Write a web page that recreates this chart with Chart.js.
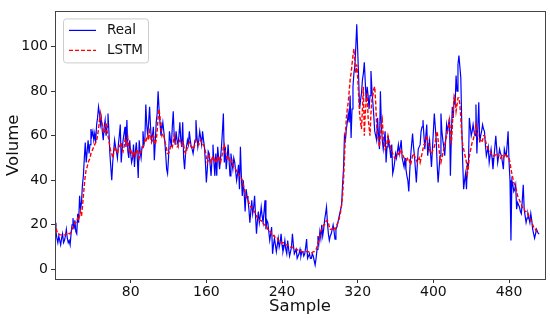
<!DOCTYPE html>
<html>
<head>
<meta charset="utf-8">
<script src="https://cdn.jsdelivr.net/npm/chart.js@4"></script>
<style>
  html, body { margin: 0; padding: 0; background: #fff; }
  #wrap { width: 550px; height: 323px; }
</style>
</head>
<body>
<div id="wrap"><canvas id="volumeChart" width="550" height="323"></canvas></div>
<script>
// Values, one per sample
const realVolume = [
  21, 17, 14, 12, 15, 13, 11, 14, 16, 12,
  13, 15, 18, 14, 12, 13, 11, 16, 20, 23,
  18, 22, 17, 16, 25, 21, 33, 27, 30, 38,
  42, 50, 57, 48, 53, 58, 52, 56, 63, 60,
  62, 58, 61, 57, 65, 68, 73, 70, 65, 68,
  62, 58, 64, 67, 60, 64, 70, 62, 52, 46,
  40, 48, 53, 58, 55, 53, 50, 56, 60, 65,
  48, 54, 58, 61, 64, 55, 67, 53, 50, 58,
  52, 48, 50, 56, 46, 53, 57, 50, 41, 58,
  53, 50, 55, 62, 56, 58, 74, 65, 60, 66,
  73, 64, 58, 60, 64, 49, 57, 66, 70, 80,
  72, 66, 60, 63, 66, 62, 58, 52, 45, 43,
  50, 62, 58, 55, 64, 71, 60, 56, 62, 58,
  56, 60, 66, 58, 55, 66, 50, 45, 52, 55,
  58, 56, 62, 58, 55, 54, 52, 55, 58, 67,
  60, 55, 58, 62, 59, 56, 62, 58, 55, 48,
  39, 45, 53, 52, 47, 42, 50, 56, 48, 42,
  52, 42, 55, 50, 45, 50, 55, 62, 70, 48,
  55, 45, 50, 56, 49, 42, 52, 48, 45, 50,
  48, 44, 40, 43, 47, 36, 55, 42, 33, 40,
  34, 26, 36, 33, 31, 27, 21, 26, 31, 25,
  28, 33, 24, 16, 22, 26, 21, 24, 28, 24,
  21, 26, 31, 18, 22, 21, 17, 13, 16, 19,
  7, 11, 14, 11, 8, 11, 14, 10, 12, 16,
  11, 8, 10, 13, 9, 7, 13, 9, 6, 8,
  10, 16, 11, 7, 8, 9, 5, 6, 7, 9,
  6, 8, 8, 6, 7, 10, 13.6, 5, 6, 7,
  5, 5, 7, 6, 4, 2, 5, 9, 15, 12,
  17, 14, 20, 15, 18, 22, 25, 28, 21, 16,
  13, 15, 16, 18, 20, 17, 13.6, 18, 19, 21,
  23, 25, 27, 29, 38, 45, 60, 58, 63, 66,
  70, 66, 78, 59, 72, 82, 88, 91, 100, 110,
  98, 86, 72, 76, 79, 85, 88, 93, 84, 75,
  82, 78, 72, 78, 89, 81, 75, 69, 62, 60,
  58, 68, 60, 54, 80, 65, 58, 54, 58, 62,
  48, 55, 60, 57, 54, 50, 56, 43, 45, 48,
  52, 50, 53, 56, 52, 55, 58, 50, 48, 46,
  50, 45, 42, 40, 35, 44, 51, 56, 61, 55,
  51, 45, 39, 47, 54, 55, 56, 62, 64, 67,
  60, 54, 60, 65, 51, 55, 58, 52, 46, 54,
  62, 70, 64, 58, 47, 39, 45, 51, 70, 62,
  58, 55, 51, 58, 65, 62, 65, 68, 42, 60,
  73, 68, 77, 74, 87, 80, 92, 96, 91, 86,
  65, 48, 36, 40, 43, 36, 48, 45, 68, 64,
  60, 62, 65, 62, 60, 74, 52, 64, 75, 57,
  60, 62, 65, 63, 62, 56, 51, 53, 55, 48,
  51, 54, 50, 45, 50, 55, 60, 54, 48, 51,
  54, 52, 51, 48, 45, 54, 52, 51, 56, 62,
  48, 40, 13, 40, 38, 35, 36, 38, 27, 30,
  29, 28, 26, 25, 31, 38, 27, 24, 21, 23,
  25, 23, 21, 25, 22, 18, 16, 14, 16, 18,
  17, 16, 16
];

const lstmVolume = [
  21, 19, 17, 16, 16, 15.5, 15.5, 15.5, 15.5, 15.5,
  15.5, 15.5, 16, 16, 16.5, 16, 16, 17, 18, 19,
  20, 21, 21, 22, 23, 22, 24, 26, 24, 28,
  33, 38, 42, 45, 46, 48, 49, 50, 52, 53,
  54, 55, 56, 57, 58, 60, 63, 67, 70, 67,
  65, 62, 61, 64, 66, 62, 60, 58, 55, 53,
  52, 50, 52, 55, 54, 53, 52, 54, 55, 56,
  57, 54, 53, 55, 58, 57, 56, 59, 55, 53,
  54, 52, 51, 53, 52, 51, 53, 54, 52, 50,
  52, 53, 54, 55, 56, 58, 57, 59, 60, 58,
  62, 60, 57, 58, 60, 59, 56, 58, 62, 68,
  72, 68, 63, 60, 61, 60, 58, 56, 54, 52,
  52, 53, 55, 56, 55, 57, 60, 58, 56, 55,
  55, 57, 58, 57, 56, 57, 56, 53, 52, 53,
  55, 56, 57, 56, 55, 55, 54, 55, 56, 58,
  58, 57, 56, 57, 58, 57, 56, 56, 55, 53,
  50, 48, 49, 51, 50, 48, 49, 51, 50, 48,
  49, 48, 50, 51, 49, 48, 50, 52, 55, 56,
  53, 51, 50, 51, 50, 48, 48, 49, 47, 46,
  46, 45, 44, 43, 43, 42, 42, 41, 40, 38,
  36, 34, 33, 32, 31, 30, 29, 28, 28, 27,
  26, 26, 25, 24, 23, 23, 22, 22, 22, 21,
  21, 20, 20, 19, 19, 18, 18, 17, 17, 16,
  16, 15, 15, 14, 14, 14, 13, 13, 13, 12,
  12, 12, 12, 11.5, 11, 11, 11, 10.5, 10.5, 10,
  10, 10, 9.5, 9.5, 9, 9, 9, 8.5, 8.5, 8.5,
  8, 8, 8, 8, 8, 8, 8, 8, 8, 7.5,
  7.5, 7.5, 7.5, 8, 8, 8.5, 9, 10, 12, 13,
  15, 17, 18, 19, 20, 20, 21, 22, 22, 21,
  19, 18, 18, 18, 19, 19, 18, 19, 20, 21,
  22, 24, 26, 29, 33, 40, 50, 60, 68, 72,
  75, 80, 85, 88, 92, 96, 99, 93, 88, 92,
  86, 78, 70, 66, 63, 72, 82, 60, 70, 76,
  79, 68, 64, 60, 70, 76, 78, 81, 82, 75,
  65, 60, 58, 55, 60, 64, 67, 60, 56, 54,
  55, 57, 60, 58, 56, 54, 53, 52, 51, 50,
  50, 51, 52, 52, 51, 53, 54, 52, 51, 50,
  50, 49, 49, 50, 50, 48, 47, 49, 51, 52,
  51, 50, 49, 48, 49, 50, 48, 50, 52, 54,
  56, 56, 58, 60, 58, 56, 54, 52, 52, 53,
  54, 55, 57, 60, 62, 58, 54, 50, 48, 50,
  52, 54, 56, 58, 60, 62, 64, 67, 62, 56,
  64, 72, 78, 77, 71, 74, 77, 77, 74, 68,
  60, 56, 54, 52, 50, 48, 43, 46, 51, 53,
  55, 57, 58, 60, 62, 65, 63, 60, 59, 58,
  58, 57, 58, 60, 60, 58, 56, 55, 54, 53,
  53, 52, 52, 51, 51, 51, 52, 52, 51, 51,
  51, 50, 51, 51, 50, 51, 52, 51, 51, 50,
  50, 48, 45, 43, 41, 39, 38, 37, 35, 33,
  32, 31, 30, 29, 28, 27, 27, 26, 26, 25,
  25, 24, 23, 22, 21, 20, 19, 18, 18, 17,
  17, 17, 17
];

const xTicks = [80, 160, 240, 320, 400, 480];
const yTicks = [0, 20, 40, 60, 80, 100];

const FONT = "'DejaVu Sans', sans-serif";

function toPoints(values) {
  return values.map((v, i) => ({ x: i, y: v }));
}

// matplotlib-like box round the plot area
const frame = {
  id: 'frame',
  afterDatasetsDraw(chart) {
    const { ctx, chartArea: a } = chart;
    ctx.save();
    ctx.strokeStyle = '#444';
    ctx.lineWidth = 1;
    ctx.strokeRect(Math.round(a.left) + 0.5, Math.round(a.top) + 0.5,
                   Math.round(a.right - a.left), Math.round(a.bottom - a.top));
    ctx.restore();
  }
};

// legend box in the top left corner
const innerLegend = {
  id: 'innerLegend',
  afterDraw(chart) {
    const { ctx, chartArea: a } = chart;
    const x = a.left + 8, y = a.top + 7, w = 85, h = 44, r = 3;
    ctx.save();
    ctx.fillStyle = 'rgba(255,255,255,0.8)';
    ctx.strokeStyle = '#cccccc';
    ctx.lineWidth = 1;
    ctx.beginPath();
    ctx.roundRect(x + 0.5, y + 0.5, w, h, r);
    ctx.fill();
    ctx.stroke();

    ctx.font = '13.5px ' + FONT;
    ctx.textBaseline = 'middle';
    ctx.fillStyle = '#111';
    chart.data.datasets.forEach((ds, i) => {
      const ly = y + 12 + i * 20;
      ctx.beginPath();
      ctx.strokeStyle = ds.borderColor;
      ctx.lineWidth = ds.borderWidth;
      ctx.setLineDash(ds.borderDash || []);
      ctx.moveTo(x + 6, ly);
      ctx.lineTo(x + 33, ly);
      ctx.stroke();
      ctx.setLineDash([]);
      ctx.fillText(ds.label, x + 44, ly);
    });
    ctx.restore();
  }
};

new Chart(document.getElementById('volumeChart'), {
  type: 'line',
  data: {
    datasets: [
      {
        label: 'Real',
        data: toPoints(realVolume),
        borderColor: '#0000ff',
        borderWidth: 1.2,
        pointRadius: 0,
        tension: 0,
        order: 1
      },
      {
        label: 'LSTM',
        data: toPoints(lstmVolume),
        borderColor: '#ff0000',
        borderWidth: 1.4,
        borderDash: [4, 2],
        pointRadius: 0,
        tension: 0,
        order: 0
      }
    ]
  },
  options: {
    responsive: false,
    animation: false,
    layout: { padding: { top: 5, right: 5, left: 0, bottom: 0 } },
    plugins: { legend: { display: false }, tooltip: { enabled: false } },
    scales: {
      x: {
        type: 'linear',
        min: 0,
        max: 518,
        afterBuildTicks: s => { s.ticks = xTicks.map(v => ({ value: v })); },
        afterFit: s => { s.height = 44; },
        grid: { drawOnChartArea: false, drawTicks: true, tickLength: 4, tickColor: '#333' },
        border: { display: false },
        ticks: { color: '#111', font: { family: FONT, size: 14 }, padding: 1, maxRotation: 0 },
        title: { display: true, text: 'Sample', color: '#111', font: { family: FONT, size: 16.5 }, padding: { top: 0, bottom: 6 } }
      },
      y: {
        min: -4.3,
        max: 115.8,
        afterBuildTicks: s => { s.ticks = yTicks.map(v => ({ value: v })); },
        afterFit: s => { s.width = 55; },
        grid: { drawOnChartArea: false, drawTicks: true, tickLength: 4, tickColor: '#333' },
        border: { display: false },
        ticks: { color: '#111', font: { family: FONT, size: 14 }, padding: 3 },
        title: { display: true, text: 'Volume', color: '#111', font: { family: FONT, size: 16.5 }, padding: { top: 4, bottom: 0 } }
      }
    }
  },
  plugins: [frame, innerLegend]
});
</script>
</body>
</html>
